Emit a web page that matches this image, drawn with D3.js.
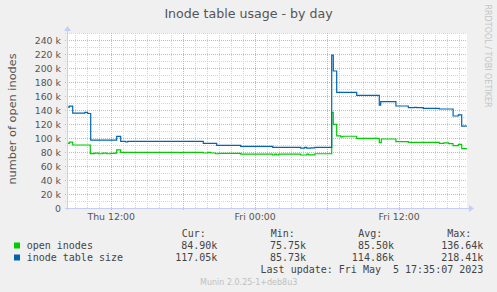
<!DOCTYPE html>
<html lang="en">
  <head>
    <meta charset="UTF-8" />
    <title>Inode table usage - by day</title>
    <script src="https://d3js.org/d3.v7.min.js"></script>
    <style>
      body { margin: 0; background: #f0f0f0; }
      svg { display: block; }
      .tick-label text { font-family: "DejaVu Sans", sans-serif; font-size: 9.4px; fill: #555; }
      .legend { font-family: "DejaVu Sans Mono", monospace; font-size: 10px; fill: #444; }
    </style>
  </head>
  <body>
    <svg width="497" height="292"></svg>
    <script>
      const width = 497;
      const height = 292;
      const plot = { left: 67, right: 467, top: 33, bottom: 208 };

      // values in thousands
      const openInodes = [
        ["2023-05-04 08:21", 92.4], ["2023-05-04 08:33", 94], ["2023-05-04 08:50", 90],
        ["2023-05-04 10:18", 77.6], ["2023-05-04 10:40", 78.5], ["2023-05-04 11:00", 77.5],
        ["2023-05-04 11:20", 78.5], ["2023-05-04 11:40", 77.5], ["2023-05-04 12:00", 78],
        ["2023-05-04 12:20", 78.5], ["2023-05-04 12:30", 82.9], ["2023-05-04 12:50", 79.5],
        ["2023-05-04 17:45", 79], ["2023-05-04 17:55", 79.5], ["2023-05-04 19:43", 78.6],
        ["2023-05-04 20:05", 79.5], ["2023-05-04 20:20", 78.6], ["2023-05-04 20:45", 77.5],
        ["2023-05-04 21:00", 78], ["2023-05-04 22:50", 77.1], ["2023-05-05 01:30", 75.75],
        ["2023-05-05 01:40", 77], ["2023-05-05 01:50", 75.75], ["2023-05-05 02:00", 77],
        ["2023-05-05 03:50", 75.75], ["2023-05-05 04:20", 77], ["2023-05-05 04:30", 75.9],
        ["2023-05-05 05:01", 77.5], ["2023-05-05 06:25", 136.64], ["2023-05-05 06:33", 119.5],
        ["2023-05-05 06:50", 102.9], ["2023-05-05 07:10", 101.5], ["2023-05-05 07:20", 102.5],
        ["2023-05-05 08:30", 99.5], ["2023-05-05 10:23", 93.3], ["2023-05-05 10:33", 98.6],
        ["2023-05-05 11:46", 94.8], ["2023-05-05 12:48", 93.8], ["2023-05-05 15:23", 92.4],
        ["2023-05-05 15:45", 93], ["2023-05-05 16:10", 92], ["2023-05-05 16:32", 89],
        ["2023-05-05 16:58", 91], ["2023-05-05 17:15", 84.9], ["2023-05-05 17:41", 84.9]
      ];

      const inodeTableSize = [
        ["2023-05-04 08:21", 144], ["2023-05-04 08:33", 145.5], ["2023-05-04 08:50", 135.5],
        ["2023-05-04 09:51", 136.7], ["2023-05-04 10:05", 135], ["2023-05-04 10:20", 97],
        ["2023-05-04 12:30", 102.4], ["2023-05-04 12:50", 95.2], ["2023-05-04 13:15", 94.3],
        ["2023-05-04 13:25", 95.2], ["2023-05-04 19:43", 92.4], ["2023-05-04 20:50", 89.5],
        ["2023-05-04 22:50", 88], ["2023-05-05 01:30", 86.7], ["2023-05-05 03:50", 85.5],
        ["2023-05-05 04:10", 86.5], ["2023-05-05 04:20", 85.5], ["2023-05-05 04:40", 86],
        ["2023-05-05 05:01", 86.7], ["2023-05-05 06:25", 218.41], ["2023-05-05 06:33", 195.7],
        ["2023-05-05 06:50", 165.2], ["2023-05-05 08:30", 161], ["2023-05-05 10:23", 147],
        ["2023-05-05 10:30", 151.9], ["2023-05-05 11:46", 145.7], ["2023-05-05 12:48", 143.3],
        ["2023-05-05 13:20", 143.8], ["2023-05-05 13:30", 143.3], ["2023-05-05 14:03", 142.4],
        ["2023-05-05 15:23", 141.4], ["2023-05-05 16:32", 131.4], ["2023-05-05 16:58", 132.9],
        ["2023-05-05 17:15", 117.05], ["2023-05-05 17:41", 117.05]
      ];

      const series = [
        { name: "open inodes", color: "#00cc00", data: openInodes },
        { name: "inode table size", color: "#0066b3", data: inodeTableSize }
      ];
      const legendCur = ["84.90k", "117.05k"];
      const legendMin = ["75.75k", "85.73k"];
      const legendAvg = ["85.50k", "114.86k"];
      const legendMax = ["136.64k", "218.41k"];
      const yTickValues = [0, 20, 40, 60, 80, 100, 120, 140, 160, 180, 200, 220, 240];
      const xLabelTimes = ["2023-05-04 12:00", "2023-05-05 00:00", "2023-05-05 12:00"];

      const parse = d3.timeParse("%Y-%m-%d %H:%M");
      const parseFull = d3.timeParse("%Y-%m-%d %H:%M:%S");

      const svg = d3.select("svg");

      const x = d3.scaleTime()
        .domain([parseFull("2023-05-04 08:21:30"), parseFull("2023-05-05 17:41:30")])
        .range([plot.left, plot.right]);
      const y = d3.scaleLinear().domain([0, 250]).range([plot.bottom, plot.top]);

      // plot background
      svg.append("rect")
        .attr("x", plot.left).attr("y", plot.top)
        .attr("width", plot.right - plot.left).attr("height", plot.bottom - plot.top)
        .attr("fill", "#ffffff");

      // title
      svg.append("text")
        .attr("x", 248.5).attr("y", 17.5)
        .attr("text-anchor", "middle")
        .attr("font-family", "DejaVu Sans, sans-serif")
        .attr("font-size", 12.6)
        .attr("fill", "#555")
        .text("Inode table usage - by day");

      // y axis title
      svg.append("text")
        .attr("transform", "translate(15.5,119) rotate(-90)")
        .attr("text-anchor", "middle")
        .attr("font-family", "DejaVu Sans, sans-serif")
        .attr("font-size", 11.3)
        .attr("fill", "#555")
        .text("number of open inodes");

      // watermark
      svg.append("text")
        .attr("transform", "translate(485,56) rotate(90)")
        .attr("text-anchor", "middle")
        .attr("font-family", "DejaVu Sans, sans-serif")
        .attr("font-size", 8)
        .attr("fill", "#c4c4c4")
        .text("RRDTOOL / TOBI OETIKER");

      // grid
      const grid = svg.append("g").attr("shape-rendering", "crispEdges");
      const [t0, t1] = x.domain();

      grid.selectAll(".vminor")
        .data(d3.timeHour.every(1).range(t0, t1))
        .join("line")
        .attr("x1", (d) => Math.round(x(d)) + 0.5).attr("x2", (d) => Math.round(x(d)) + 0.5)
        .attr("y1", plot.top).attr("y2", plot.bottom)
        .attr("stroke", "#d4d4d4").attr("stroke-dasharray", "1,1");

      grid.selectAll(".hminor")
        .data(d3.range(10, 251, 20))
        .join("line")
        .attr("x1", plot.left - 2).attr("x2", plot.right)
        .attr("y1", (d) => Math.round(y(d)) + 0.5).attr("y2", (d) => Math.round(y(d)) + 0.5)
        .attr("stroke", "#d4d4d4").attr("stroke-dasharray", "1,1");

      grid.selectAll(".vmajor")
        .data(d3.timeHour.every(6).range(t0, t1))
        .join("line")
        .attr("x1", (d) => Math.round(x(d)) + 0.5).attr("x2", (d) => Math.round(x(d)) + 0.5)
        .attr("y1", plot.top).attr("y2", plot.bottom + 2)
        .attr("stroke", "#f4a4a4").attr("stroke-dasharray", "1,1");

      grid.selectAll(".hmajor")
        .data(yTickValues.filter((v) => v > 0))
        .join("line")
        .attr("x1", plot.left - 2).attr("x2", plot.right)
        .attr("y1", (d) => Math.round(y(d)) + 0.5).attr("y2", (d) => Math.round(y(d)) + 0.5)
        .attr("stroke", "#f4a4a4").attr("stroke-dasharray", "1,1");

      // y tick labels
      svg.append("g")
        .attr("class", "tick-label")
        .attr("transform", `translate(${plot.left},0)`)
        .call(d3.axisLeft(y).tickValues(yTickValues).tickSize(0).tickPadding(6)
          .tickFormat((v) => (v === 0 ? "0" : v + " k")))
        .call((g) => g.select(".domain").remove());

      // x tick labels
      svg.append("g")
        .attr("class", "tick-label")
        .attr("transform", `translate(0,${plot.bottom})`)
        .call(d3.axisBottom(x).tickValues(xLabelTimes.map(parse)).tickSize(0).tickPadding(5.3)
          .tickFormat(d3.timeFormat("%a %H:%M")))
        .call((g) => g.select(".domain").remove());

      // series lines
      const line = d3.line()
        .x((d) => x(parse(d[0])))
        .y((d) => y(d[1]))
        .curve(d3.curveStepAfter);

      svg.selectAll(".series")
        .data(series)
        .join("path")
        .attr("fill", "none")
        .attr("stroke", (d) => d.color)
        .attr("stroke-width", 1.2)
        .attr("d", (d) => line(d.data));

      // axes with arrows
      const axisColor = "#c6cdf6";
      svg.append("line")
        .attr("x1", plot.left + 0.5).attr("x2", plot.left + 0.5)
        .attr("y1", 29).attr("y2", plot.bottom + 2)
        .attr("stroke", axisColor);
      svg.append("line")
        .attr("x1", plot.left - 2).attr("x2", 470)
        .attr("y1", plot.bottom + 0.5).attr("y2", plot.bottom + 0.5)
        .attr("stroke", axisColor);
      svg.append("path")
        .attr("d", `M${plot.left - 3},31 L${plot.left + 0.5},26 L${plot.left + 4},31 Z`)
        .attr("fill", axisColor);
      svg.append("path")
        .attr("d", `M469,${plot.bottom - 3} L474,${plot.bottom + 0.5} L469,${plot.bottom + 4} Z`)
        .attr("fill", axisColor);

      // legend
      const legend = svg.append("g").attr("class", "legend");
      const colX = [217.3, 306, 394, 483.3];
      const headX = [181.7, 270.7, 358.3, 447.3];
      ["Cur:", "Min:", "Avg:", "Max:"].forEach((h, i) => {
        legend.append("text").attr("x", headX[i]).attr("y", 236.5).text(h);
      });

      series.forEach((s, i) => {
        const rowY = 249 + i * 12;
        legend.append("rect")
          .attr("x", 14).attr("y", rowY - 6.5)
          .attr("width", 6).attr("height", 6)
          .attr("fill", s.color);
        legend.append("text").attr("x", 26.7).attr("y", rowY).text(s.name);
        [legendCur, legendMin, legendAvg, legendMax].forEach((col, j) => {
          legend.append("text")
            .attr("x", colX[j]).attr("y", rowY)
            .attr("text-anchor", "end")
            .text(col[i]);
        });
      });

      legend.append("text")
        .attr("x", 483.3).attr("y", 273)
        .attr("text-anchor", "end")
        .text("Last update: Fri May \u00a05 17:35:07 2023");

      svg.append("text")
        .attr("x", 248.7).attr("y", 284.5)
        .attr("text-anchor", "middle")
        .attr("font-family", "DejaVu Sans, sans-serif")
        .attr("font-size", 8)
        .attr("fill", "#c0c0c0")
        .text("Munin 2.0.25-1+deb8u3");
    </script>
  </body>
</html>
